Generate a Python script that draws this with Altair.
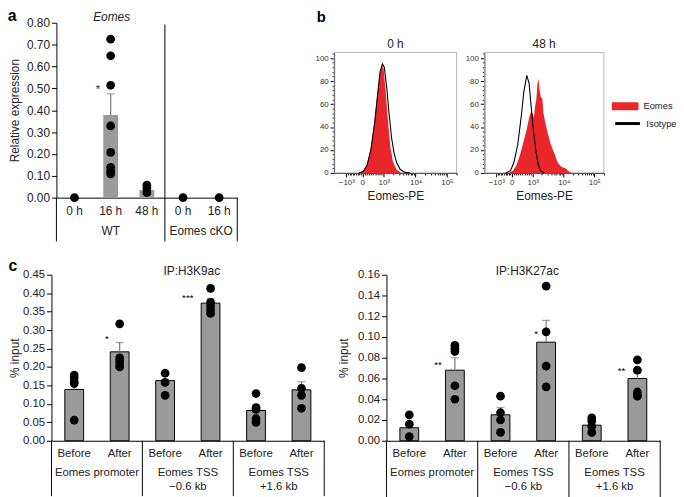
import altair as alt
import pandas as pd

FONT = "Liberation Sans"
W, H = 676, 489
RED = "#e8262b"

# ---------------- Panel a : Eomes relative expression ----------------
a_keys = ["WT|0 h", "WT|16 h", "WT|48 h", "cKO|0 h", "cKO|16 h"]
a_means = [0.0, 0.378, 0.035, 0.0, 0.0]
a_err_top = [0.0, 0.475, 0.0, 0.0, 0.0]
a_points = [[0.0],
            [0.725, 0.649, 0.514, 0.328, 0.207, 0.139, 0.121, 0.109],
            [0.057, 0.042, 0.023],
            [0.0],
            [0.0]]
a_ticks = [0.0, 0.1, 0.2, 0.3, 0.4, 0.5, 0.6, 0.7, 0.8]
a_groups = ["WT", "Eomes cKO"]
a_stars = ["*"]
a_star_y = [0.505]

# ---------------- Panel b : flow histograms ----------------
b_tick_vals = [10, 23, 40.5, 66.5, 92]
b_tick_labels = ["\u221210\u00b3", "0", "10\u00b3", "10\u2074", "10\u2075"]
b_minor_x = [11.3, 12.6, 13.9, 15.2, 16.5, 17.8, 19.1, 20.4, 21.7,
             24.7, 26.5, 28.2, 30.0, 31.7, 33.5, 35.2, 37.0, 38.7,
             48.3, 52.9, 56.2, 58.7, 60.7, 62.5, 64.0, 65.3,
             74.2, 78.7, 81.9, 84.3, 86.3, 88.0, 89.5, 90.8, 99.7]
b_y_ticks = [0, 20, 40, 60, 80, 100]
b_minor_y = [4, 8, 12, 16, 24, 28, 32, 36, 44, 48, 52, 56, 64, 68, 72, 76, 84, 88, 92, 96, 104]

h0_red_x = [20, 24, 27, 30, 33, 35.5, 37.5, 39, 40.5, 42, 44, 46, 48, 51, 55]
h0_red_y = [0, 2, 8, 22, 45, 70, 88, 95, 90, 72, 45, 22, 10, 3, 0]
h0_iso_x = [20, 24, 27, 30, 33, 35.5, 37.5, 39.5, 41, 43, 45, 47, 49, 51, 54, 58, 62]
h0_iso_y = [0, 1.5, 7, 20, 43, 68, 88, 95, 92, 74, 50, 30, 17, 9, 3, 0.5, 0]

h48_red_x = [20, 24, 27, 30, 33, 35.5, 37.5, 39, 40.5, 41.5, 42.5, 43.5, 44.5, 45.3, 46.3,
             47.3, 48.5, 49.5, 51, 53, 55, 57, 59, 61, 63, 65, 68, 70, 73]
h48_red_y = [0, 2, 7, 16, 28, 38, 48, 53, 52, 48, 58, 64, 78, 82, 72,
             66, 65, 52, 44, 35, 27, 21, 16, 10, 7, 5, 4, 2, 0]
h48_iso_x = [18, 22, 25, 28, 31, 33, 35.5, 37.5, 39, 41, 43, 45, 47, 50]
h48_iso_y = [0, 2, 10, 25, 50, 70, 85, 78, 60, 38, 20, 8, 2, 0]

# ---------------- Panel c : ChIP ----------------
c_keys = ["P|Before", "P|After", "T6|Before", "T6|After", "T16|Before", "T16|After"]
c_groups = ["Eomes promoter", "Eomes TSS\n\u22120.6 kb", "Eomes TSS\n+1.6 kb"]

k9_means = [0.139, 0.241, 0.163, 0.373, 0.082, 0.138]
k9_err_top = [0.158, 0.266, 0.178, 0.385, 0.097, 0.160]
k9_points = [[0.178, 0.170, 0.160, 0.155, 0.056],
             [0.317, 0.225, 0.215, 0.205, 0.200],
             [0.183, 0.158, 0.123],
             [0.413, 0.375, 0.365, 0.355, 0.345],
             [0.128, 0.090, 0.085, 0.060, 0.050],
             [0.198, 0.142, 0.123, 0.088]]
k9_ticks = [0.0, 0.05, 0.10, 0.15, 0.20, 0.25, 0.30, 0.35, 0.40, 0.45]
k9_star_cat = [1, 3]
k9_star_txt = ["*", "***"]
k9_star_y = [0.284, 0.396]
k9_star_dx = [-13, -23]

k27_means = [0.0125, 0.068, 0.025, 0.095, 0.015, 0.060]
k27_err_top = [0.016, 0.080, 0.032, 0.116, 0.018, 0.065]
k27_points = [[0.025, 0.016, 0.004],
              [0.092, 0.089, 0.086, 0.053, 0.040],
              [0.043, 0.027, 0.020, 0.008],
              [0.149, 0.105, 0.072, 0.052],
              [0.022, 0.019, 0.014, 0.008],
              [0.078, 0.068, 0.047, 0.044, 0.043]]
k27_ticks = [0.0, 0.02, 0.04, 0.06, 0.08, 0.10, 0.12, 0.14, 0.16]
k27_star_cat = [1, 3, 5]
k27_star_txt = ["**", "*", "**"]
k27_star_y = [0.076, 0.106, 0.070]
k27_star_dx = [-17, -10, -16]

LBL = "split(datum.label, '|')[1]"
units = []


# ======================= builders =======================
def bar_panel(keys, means, err_top, points, ticks, y_dom, xr, yr, ytitle,
              bar_w, bar_stroke, label_pad, tfs, title_pad):
    def xs():
        return alt.Scale(domain=keys, range=xr, paddingInner=0, paddingOuter=0)

    def ys():
        return alt.Scale(domain=y_dom, range=yr, zero=False, nice=False)

    def X(bp=None, axis=None):
        kw = dict(scale=xs(), title=None, axis=axis)
        if bp is not None:
            kw["bandPosition"] = bp
        return alt.X("key:N", **kw)

    def Y(field="v", axis=None):
        return alt.Y(f"{field}:Q", scale=ys(), title=None, axis=axis)

    x_axis = alt.Axis(orient="bottom", offset=yr[0] - H, ticks=False, labelExpr=LBL,
                      labelPadding=label_pad, labelFontSize=tfs, labelAngle=0,
                      domainColor="black", domainWidth=1, labelColor="#222", title=None)
    y_axis = alt.Axis(orient="left", offset=-xr[0], values=ticks, format=".2f",
                      tickSize=5, labelFontSize=tfs, title=ytitle, titleFontSize=12,
                      titleFontWeight="normal", titlePadding=title_pad, domainColor="black",
                      tickColor="black", labelColor="#222", titleColor="#222", grid=False)

    df_bar = pd.DataFrame({"key": keys, "v": means, "top": err_top})
    bar_kw = dict(width=bar_w, color="#9a9a9a")
    if bar_stroke:
        bar_kw.update(stroke="black", strokeWidth=1)
    out = []
    out.append(alt.Chart(df_bar).mark_bar(**bar_kw).encode(
        x=X(axis=x_axis),
        y=alt.Y("v:Q", scale=ys(), title=ytitle, axis=y_axis)))

    df_err = df_bar[df_bar["top"] > df_bar["v"]]
    out.append(alt.Chart(df_err).mark_rule(color="#7a7a7a", strokeWidth=1.2).encode(
        x=X(), y=Y("v"), y2="top:Q"))
    out.append(alt.Chart(df_err).mark_tick(color="#7a7a7a", size=8, thickness=1.2).encode(
        x=X(), y=Y("top")))

    rows = [{"key": k, "v": v} for k, vs in zip(keys, points) for v in vs]
    out.append(alt.Chart(pd.DataFrame(rows)).mark_circle(size=78, color="black", opacity=1).encode(
        x=X(), y=Y("v")))
    return X, Y, out


# ---------- panel a ----------
A_XR = [49, 232]
A_YR = [189, 12]
A_BAND = (A_XR[1] - A_XR[0]) / len(a_keys)
Xa, Ya, a_layers = bar_panel(a_keys, a_means, a_err_top, a_points, a_ticks, [0, 0.8],
                             A_XR, A_YR, "Relative expression", 15, False, 8, 12, 5)
units += a_layers

for k, bp, top in [(0, 0, 0.0), (2, 1, 0.792), (4, 1, 0.0)]:
    units.append(alt.Chart(pd.DataFrame({"key": [a_keys[k]], "v": [top], "b": [-0.2]}))
                 .mark_rule(color="black", strokeWidth=1)
                 .encode(x=Xa(bp=bp), y=Ya("v"), y2="b:Q"))
for k, shift, g in [(1, 0, a_groups[0]), (3, A_BAND / 2, a_groups[1])]:
    units.append(alt.Chart(pd.DataFrame({"key": [a_keys[k]], "v": [0.0], "t": [g]}))
                 .mark_text(font=FONT, fontSize=12, fill="#222", dx=shift, dy=34)
                 .encode(x=Xa(), y=Ya("v"), text="t:N"))
units.append(alt.Chart(pd.DataFrame({"key": [a_keys[1]], "v": a_star_y, "t": a_stars}))
             .mark_text(font=FONT, fontSize=11, fill="#222", dx=-13, dy=3)
             .encode(x=Xa(), y=Ya("v"), text="t:N"))
units.append(alt.Chart(pd.DataFrame({"key": [a_keys[1]], "v": [0.8], "t": ["Eomes"]}))
             .mark_text(font=FONT, fontSize=12, fontStyle="italic", fill="#222", dx=1, dy=-6)
             .encode(x=Xa(), y=Ya("v"), text="t:N"))
units.append(alt.Chart(pd.DataFrame({"key": [a_keys[0]], "v": [0.8], "t": ["a"]}))
             .mark_text(font=FONT, fontSize=16, fontWeight="bold", fill="black", dx=-63, dy=-7)
             .encode(x=Xa(), y=Ya("v"), text="t:N"))


# ---------- panel c ----------
def c_panel(means, err_top, points, ticks, ymax, xr, title, star_cat, star_txt, star_y,
            star_dx, sep_bottom, label_c, title_pad):
    band = (xr[1] - xr[0]) / len(c_keys)
    X, Y, layers = bar_panel(c_keys, means, err_top, points, ticks, [0, ymax], xr, [435, 267],
                             "% input", 19, True, 7, 11.5, title_pad)
    out = list(layers)
    for k, bp in [(0, 0), (2, 0), (4, 0), (5, 1)]:
        out.append(alt.Chart(pd.DataFrame({"key": [c_keys[k]], "v": [0.0], "b": [sep_bottom]}))
                   .mark_rule(color="black", strokeWidth=1)
                   .encode(x=X(bp=bp), y=Y("v"), y2="b:Q"))
    for gi, k in enumerate([0, 2, 4]):
        out.append(alt.Chart(pd.DataFrame({"key": [c_keys[k]], "v": [0.0], "t": [c_groups[gi]]}))
                   .mark_text(font=FONT, fontSize=11.5, fill="#222", dx=band / 2, dy=27,
                              baseline="top", lineBreak="\n", lineHeight=14)
                   .encode(x=X(), y=Y("v"), text="t:N"))
    for c, t, v, d in zip(star_cat, star_txt, star_y, star_dx):
        out.append(alt.Chart(pd.DataFrame({"key": [c_keys[c]], "v": [v], "t": [t]}))
                   .mark_text(font=FONT, fontSize=10, fill="black", dx=d, dy=3)
                   .encode(x=X(), y=Y("v"), text="t:N"))
    out.append(alt.Chart(pd.DataFrame({"key": [c_keys[2]], "v": [ymax], "t": [title]}))
               .mark_text(font=FONT, fontSize=12, fill="#222", dx=band / 2 + 4, dy=-4)
               .encode(x=X(), y=Y("v"), text="t:N"))
    if label_c:
        out.append(alt.Chart(pd.DataFrame({"key": [c_keys[0]], "v": [ymax], "t": ["c"]}))
                   .mark_text(font=FONT, fontSize=16, fontWeight="bold", fill="black",
                              dx=-band / 2 - 39, dy=-9)
                   .encode(x=X(), y=Y("v"), text="t:N"))
    return out


units += c_panel(k9_means, k9_err_top, k9_points, k9_ticks, 0.45, [44, 320], "IP:H3K9ac",
                 k9_star_cat, k9_star_txt, k9_star_y, k9_star_dx, -0.15, True, 1)
units += c_panel(k27_means, k27_err_top, k27_points, k27_ticks, 0.16, [383, 660], "IP:H3K27ac",
                 k27_star_cat, k27_star_txt, k27_star_y, k27_star_dx, -0.055, False, 7)

# ---------- panel b ----------
B_YR = [164, 42]
label_expr_b = " : ".join(f"datum.value == {v} ? '{l}'" for v, l in zip(b_tick_vals, b_tick_labels)) + " : ''"


def hist_panel(xr, red_x, red_y, iso_x, iso_y, title, label_b, with_legend):
    def xs():
        return alt.Scale(domain=[0, 100], range=xr, zero=False, nice=False)

    def ys():
        return alt.Scale(domain=[0, 105], range=B_YR, zero=False, nice=False)

    def X(field="x", axis=None):
        return alt.X(f"{field}:Q", scale=xs(), axis=axis, title=None)

    def Y(field="y", axis=None):
        return alt.Y(f"{field}:Q", scale=ys(), axis=axis, title=None)

    out = []
    frame = pd.DataFrame({"x0": [0], "x1": [100], "y0": [0], "y1": [105]})
    out.append(alt.Chart(frame).mark_rect(fill="white", fillOpacity=0, stroke="#b5b5b5",
                                          strokeWidth=1).encode(
        x=X("x0", alt.Axis(orient="bottom", offset=B_YR[0] - H, values=b_minor_x, labels=False,
                           domain=False, tickSize=2, tickColor="black", grid=False, title=None)),
        x2="x1:Q",
        y=Y("y0", alt.Axis(orient="left", offset=-xr[0], values=b_minor_y, labels=False,
                           domain=False, tickSize=2, tickColor="black", grid=False, title=None)),
        y2="y1:Q"))

    x_axis = alt.Axis(orient="bottom", offset=B_YR[0] - H, values=b_tick_vals, labelExpr=label_expr_b,
                      labelFontSize=8, tickSize=4, labelPadding=2, title="Eomes-PE",
                      titleFontSize=12, titleFontWeight="normal", titlePadding=4,
                      domainColor="black", tickColor="black", labelColor="#333", titleColor="#222",
                      grid=False, labelFlush=False)
    y_axis = alt.Axis(orient="left", offset=-xr[0], values=b_y_ticks, labelFontSize=8, tickSize=4,
                      labelPadding=2, domainColor="black", tickColor="black", labelColor="#333",
                      grid=False, title=None)
    red = pd.DataFrame({"x": red_x, "y": red_y, "stain": "Eomes"})
    iso = pd.DataFrame({"x": iso_x, "y": iso_y, "ctrl": "Isotype"})
    if with_legend:
        fleg = alt.Legend(orient="none", legendX=611, legendY=83,
                          symbolType="M-1,-0.3H1V0.3H-1Z", symbolSize=729,
                          symbolStrokeWidth=0, labelFont=FONT, labelFontSize=9.5,
                          labelColor="#222", labelOffset=5, padding=0)
        sleg = alt.Legend(orient="none", legendX=613, legendY=100,
                          symbolType="stroke", symbolSize=625,
                          symbolStrokeWidth=3, labelFont=FONT, labelFontSize=9.5,
                          labelColor="#222", labelOffset=5, padding=0)
    else:
        fleg = None
        sleg = None
    out.append(alt.Chart(red).mark_area(interpolate="linear").encode(
        x=alt.X("x:Q", scale=xs(), axis=x_axis, title="Eomes-PE"),
        y=Y("y", y_axis),
        fill=alt.Fill("stain:N", scale=alt.Scale(domain=["Eomes"], range=[RED]), title=None,
                      legend=fleg)))
    out.append(alt.Chart(iso).mark_line(strokeWidth=1.1).encode(
        x=X(), y=Y(),
        stroke=alt.Stroke("ctrl:N", scale=alt.Scale(domain=["Isotype"], range=["black"]),
                          title=None, legend=sleg)))
    out.append(alt.Chart(pd.DataFrame({"x": [50], "y": [105], "t": [title]})).mark_text(
        font=FONT, fontSize=12, fill="#222", dy=-8).encode(x=X(), y=Y(), text="t:N"))
    if label_b:
        out.append(alt.Chart(pd.DataFrame({"x": [0], "y": [105], "t": ["b"]})).mark_text(
            font=FONT, fontSize=15, fontWeight="bold", fill="black", dx=-13, dy=-36).encode(
            x=X(), y=Y(), text="t:N"))
    return out


units += hist_panel([330, 454], h0_red_x, h0_red_y, h0_iso_x, h0_iso_y, "0 h", True, False)
units += hist_panel([482, 603], h48_red_x, h48_red_y, h48_iso_x, h48_iso_y, "48 h", False, True)

chart = alt.layer(*units).resolve_scale(
    x="independent", y="independent", fill="independent", stroke="independent").resolve_axis(
    x="independent", y="independent").properties(
    width=W, height=H, padding=0, autosize=alt.AutoSizeParams(type="none"),
    background="white").configure_view(strokeWidth=0).configure_axis(
    labelFont=FONT, titleFont=FONT, grid=False)

chart.save("out.html", embed_options={"renderer": "svg", "actions": False})
